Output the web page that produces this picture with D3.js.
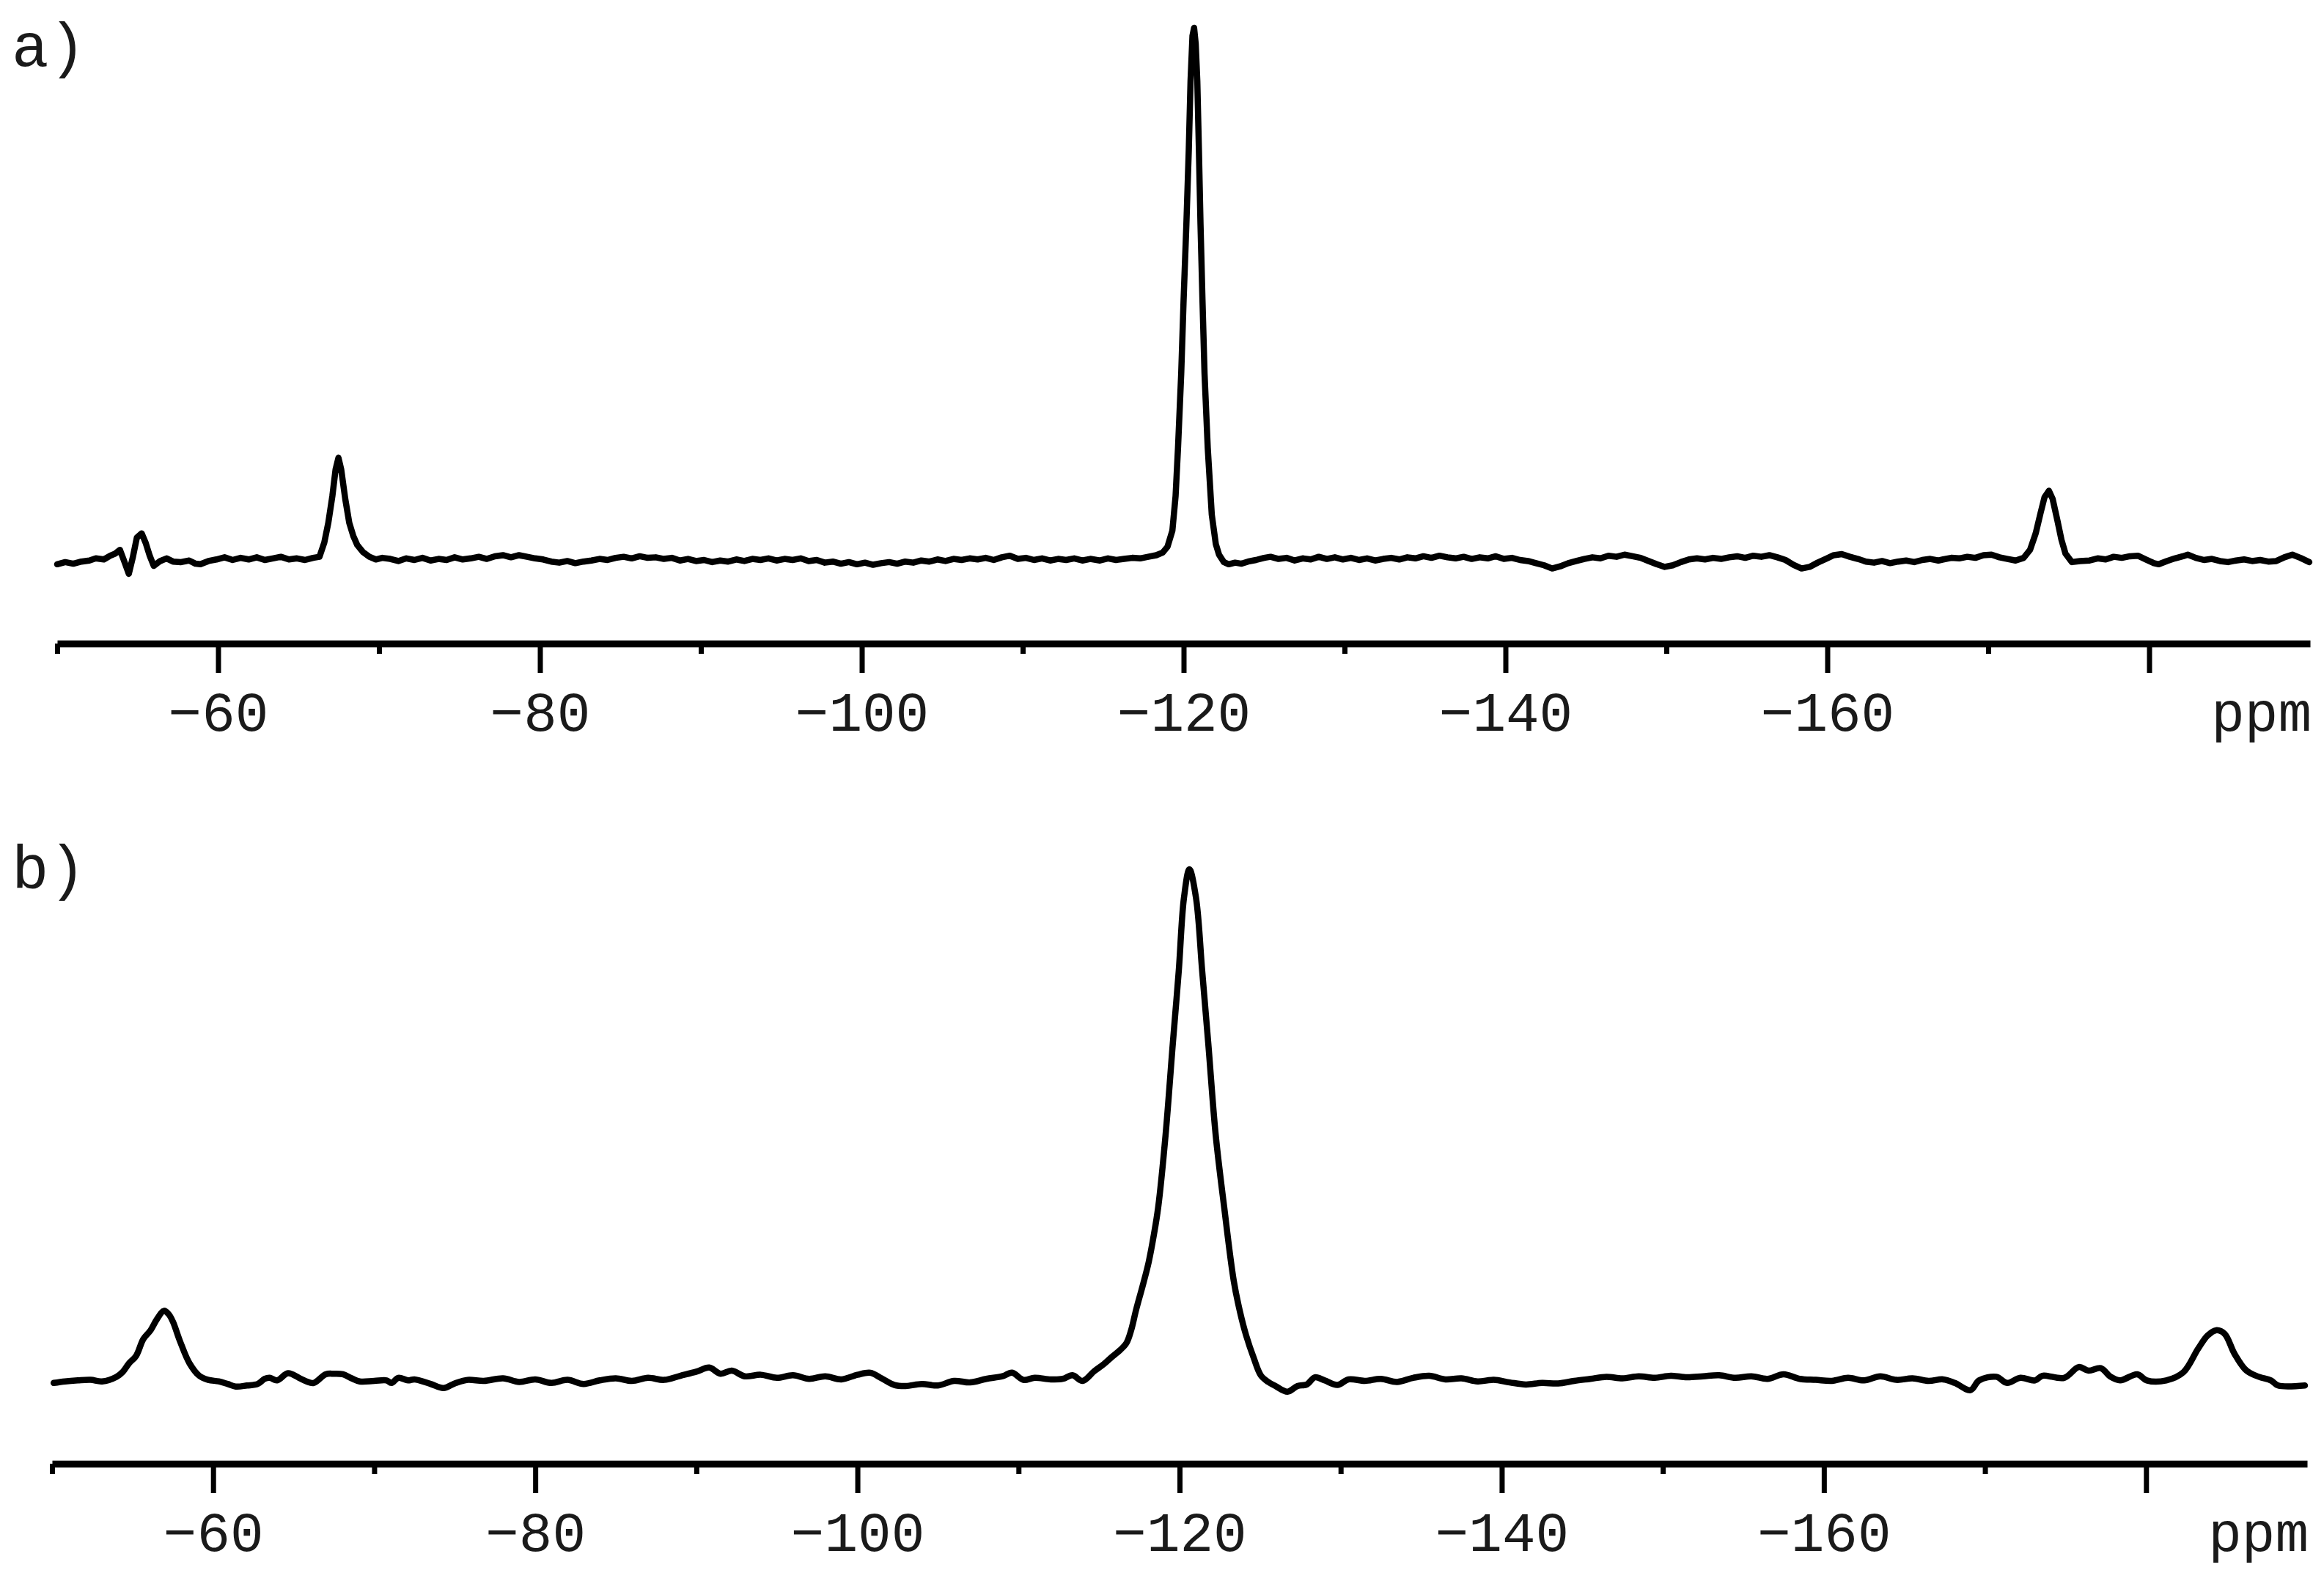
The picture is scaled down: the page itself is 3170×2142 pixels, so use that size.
<!DOCTYPE html>
<html>
<head>
<meta charset="utf-8">
<script src="https://cdnjs.cloudflare.com/ajax/libs/d3/7.8.5/d3.min.js"></script>
<style>
  body { margin: 0; background: #ffffff; }
  text { font-family: "Courier New", "Liberation Mono", monospace; fill: #1a1a1a; }
</style>
</head>
<body>
<div id="spectra"></div>
<script>
//chemical shift (ppm) and intensity read off spectrum a)
var shiftA = [-50.0,-50.5,-51.0,-51.5,-52.0,-52.4,-52.9,-53.3,-53.6,-53.9,-54.2,-54.45,-54.7,-54.95,-55.25,-55.5,-55.75,-56.0,-56.4,-56.8,
  -57.2,-57.7,-58.2,-58.6,-58.9,-59.4,-59.9,-60.4,-60.9,-61.4,-61.9,-62.4,-62.9,-63.4,-63.9,-64.4,-64.9,-65.4,-65.9,-66.3,
  -66.6,-66.85,-67.1,-67.3,-67.48,-67.65,-67.9,-68.15,-68.4,-68.65,-69.0,-69.4,-69.8,-70.2,-70.7,
  -71.2,-71.7,-72.2,-72.7,-73.2,-73.7,-74.2,-74.7,-75.2,-75.7,-76.2,-76.7,-77.2,-77.7,-78.2,-78.7,-79.2,-79.7,-80.2,-80.7,
  -81.2,-81.7,-82.2,-82.7,-83.2,-83.7,-84.2,-84.7,-85.2,-85.7,-86.2,-86.7,-87.2,-87.7,-88.2,-88.7,-89.2,-89.7,-90.2,-90.7,
  -91.2,-91.7,-92.2,-92.7,-93.2,-93.7,-94.2,-94.7,-95.2,-95.7,-96.2,-96.7,-97.2,-97.7,-98.2,-98.7,-99.2,-99.7,-100.2,-100.7,
  -101.2,-101.7,-102.2,-102.7,-103.2,-103.7,-104.2,-104.7,-105.2,-105.7,-106.2,-106.7,-107.2,-107.7,-108.2,-108.7,-109.2,-109.7,-110.2,-110.7,
  -111.2,-111.7,-112.2,-112.7,-113.2,-113.7,-114.2,-114.8,-115.3,-115.8,-116.3,-116.8,-117.3,-117.8,-118.3,-118.7,-119.0,-119.3,-119.5,-119.65,
  -119.85,-120.0,-120.17,-120.32,-120.43,-120.55,-120.65,-120.75,-120.85,-120.95,-121.05,-121.17,-121.3,-121.5,-121.75,-122.0,-122.2,-122.5,-122.8,-123.2,
  -123.6,-124.0,-124.5,-125.0,-125.4,-125.9,-126.4,-126.9,-127.4,-127.9,-128.4,-128.9,-129.4,-129.9,-130.4,-130.9,-131.4,-131.9,-132.4,-132.9,
  -133.4,-133.9,-134.4,-134.9,-135.4,-135.9,-136.4,-136.9,-137.4,-137.9,-138.4,-138.9,-139.4,-139.9,-140.4,-140.9,-141.4,-141.9,-142.4,-142.9,
  -143.4,-143.9,-144.4,-144.9,-145.4,-145.9,-146.4,-146.9,-147.4,-147.9,-148.4,-148.9,-149.4,-149.9,-150.4,-150.9,-151.4,-151.9,-152.4,-152.9,
  -153.4,-153.9,-154.4,-154.9,-155.4,-155.9,-156.4,-156.9,-157.4,-157.9,-158.4,-158.9,-159.4,-159.9,-160.4,-160.9,-161.4,-161.9,-162.4,-162.9,
  -163.4,-163.9,-164.4,-164.9,-165.4,-165.9,-166.4,-166.9,-167.2,-167.7,-168.2,-168.7,-169.2,-169.7,-170.2,-170.7,-171.2,-171.7,-172.2,-172.6,
  -172.95,-173.25,-173.5,-173.77,-174.0,-174.3,-174.55,-174.8,-175.2,-175.7,-176.3,-176.8,-177.3,-177.8,-178.3,-178.8,-179.3,-179.8,-180.3,-180.6,
  -181.1,-181.6,-182.1,-182.4,-182.9,-183.4,-183.9,-184.4,-184.9,-185.4,-185.9,-186.4,-186.9,-187.4,-187.9,-188.4,-188.9,-189.4,-189.95];
var intensityA = [-0.8,-0.4,-0.7,-0.3,-0.1,0.3,0.1,0.8,1.2,1.9,-0.5,-2.6,0.5,4.2,5.0,3.2,0.8,-1.1,-0.2,0.3,
  -0.3,-0.4,-0.1,-0.7,-0.8,-0.2,0.1,0.5,0.0,0.4,0.1,0.5,0.0,0.3,0.6,0.1,0.3,0.0,0.4,0.6,
  3.3,7.0,12.0,17.0,19.2,17.0,11.5,7.0,4.5,2.8,1.5,0.6,0.1,0.4,0.2,
  -0.2,0.3,0.0,0.4,-0.1,0.2,0.0,0.5,0.1,0.3,0.6,0.2,0.7,0.9,0.5,0.9,0.6,0.3,0.1,-0.3,
  -0.5,-0.2,-0.6,-0.3,-0.1,0.2,0.0,0.4,0.6,0.3,0.7,0.4,0.5,0.2,0.4,-0.1,0.2,-0.2,0.0,-0.4,
  -0.1,-0.3,0.1,-0.2,0.2,0.0,0.3,-0.1,0.2,0.0,0.3,-0.2,0.0,-0.5,-0.3,-0.7,-0.4,-0.8,-0.5,-0.9,
  -0.6,-0.4,-0.7,-0.3,-0.5,-0.1,-0.3,0.1,-0.2,0.2,0.0,0.3,0.1,0.4,0.0,0.5,0.8,0.2,0.4,0.0,
  0.3,-0.1,0.2,0.0,0.3,-0.1,0.2,-0.1,0.3,0.0,0.2,0.4,0.3,0.6,0.9,1.4,2.5,5.5,12.0,21.0,
  35.0,49.0,63.0,77.0,90.0,98.5,100.0,97.0,90.0,77.0,63.0,49.0,35.0,21.0,8.5,3.0,1.0,-0.4,-0.8,-0.5,
  -0.7,-0.3,0.0,0.4,0.6,0.2,0.4,-0.1,0.3,0.1,0.6,0.2,0.5,0.1,0.4,0.0,0.3,-0.1,0.2,0.4,
  0.1,0.5,0.3,0.7,0.4,0.8,0.5,0.3,0.6,0.2,0.5,0.3,0.7,0.2,0.4,0.0,-0.2,-0.6,-1.0,-1.6,
  -1.2,-0.6,-0.2,0.2,0.5,0.3,0.8,0.6,1.0,0.7,0.4,-0.2,-0.8,-1.3,-1.0,-0.4,0.1,0.3,0.1,0.4,
  0.2,0.5,0.7,0.4,0.8,0.6,0.9,0.5,0.0,-0.9,-1.6,-1.3,-0.5,0.2,0.9,1.1,0.6,0.2,-0.3,-0.5,
  -0.2,-0.6,-0.3,-0.1,-0.4,0.0,0.2,-0.1,0.1,0.4,0.3,0.6,0.4,0.9,1.0,0.5,0.2,-0.1,0.4,1.9,
  5.0,8.8,11.8,13.0,11.5,7.4,3.8,1.2,-0.4,-0.2,-0.1,0.3,0.1,0.6,0.4,0.7,0.8,0.1,-0.6,-0.8,
  -0.2,0.3,0.7,1.0,0.4,0.0,0.2,-0.2,-0.4,-0.1,0.1,-0.2,0.0,-0.3,-0.2,0.5,1.0,0.4,-0.4];

//chemical shift (ppm) and intensity read off spectrum b)
var shiftB = [-50.1,-50.8,-51.6,-52.4,-53.1,-54.0,-54.4,-54.77,-55.22,-55.67,-56.12,-56.5,-56.95,-57.25,-57.5,-57.95,-58.54,-59.14,-59.7,-60.35,
  -60.9,-61.4,-62.1,-62.77,-63.2,-63.52,-63.97,-64.65,-65.33,-65.8,-66.24,-66.99,-67.5,-68.05,-68.6,-69.1,-70.0,-70.77,-71.07,-71.5,
  -72.1,-72.5,-73.5,-74.3,-75.0,-75.8,-76.8,-78.0,-79.0,-80.0,-81.0,-82.0,-83.0,-84.0,-85.0,-86.0,-87.0,-88.0,-89.0,-90.0,
  -90.8,-91.5,-92.2,-93.0,-94.0,-95.0,-96.0,-97.0,-98.0,-99.0,-100.0,-100.8,-101.5,-102.3,-103.0,-104.0,-105.0,-106.0,-107.0,-108.0,
  -109.0,-109.6,-110.3,-111.0,-112.0,-112.75,-113.35,-113.98,-114.7,-115.3,-115.8,-116.3,-116.7,-117.0,-117.3,-117.7,-118.08,-118.4,-118.67,-119.13,
  -119.58,-119.95,-120.27,-120.61,-121.02,-121.4,-121.78,-122.24,-122.77,-123.36,-123.75,-124.13,-124.6,-125.04,-125.5,-125.95,-126.7,-127.32,-127.9,-128.4,
  -129.0,-129.8,-130.5,-131.5,-132.5,-133.5,-134.5,-135.5,-136.5,-137.5,-138.5,-139.5,-140.5,-141.5,-142.5,-143.5,-144.5,-145.5,-146.5,-147.5,
  -148.5,-149.5,-150.5,-151.5,-152.5,-153.5,-154.5,-155.5,-156.5,-157.5,-158.5,-159.5,-160.5,-161.5,-162.5,-163.5,-164.5,-165.5,-166.5,-167.4,
  -168.13,-169.1,-169.64,-170.7,-171.37,-172.2,-173.1,-173.56,-174.92,-175.82,-176.43,-177.19,-177.8,-178.39,-179.45,-180.05,-181.25,-182.32,-183.23,-183.83,
  -184.35,-184.88,-185.49,-186.24,-187.0,-187.75,-188.2,-189.86];
var intensityB = [-0.4,-0.1,0.1,0.2,-0.1,0.8,1.8,3.4,4.9,8.2,9.9,12.0,13.7,13.0,11.6,7.7,3.4,1.0,0.2,-0.1,
  -0.6,-1.1,-0.9,-0.6,0.4,0.6,0.1,1.5,0.6,-0.1,-0.4,1.3,1.4,1.3,0.5,-0.1,0.0,0.1,-0.4,0.6,
  0.1,0.3,-0.6,-1.4,-0.5,0.2,0.0,0.5,-0.2,0.3,-0.4,0.2,-0.6,0.1,0.5,0.0,0.6,0.2,1.0,1.8,
  2.6,1.4,2.0,0.9,1.2,0.6,1.1,0.4,0.9,0.3,1.2,1.6,0.5,-0.8,-1.0,-0.6,-0.9,0.0,-0.3,0.4,
  0.9,1.6,0.2,0.6,0.3,0.4,1.1,0.0,1.9,3.3,4.7,6.0,7.4,10.0,13.9,18.5,23.2,28.5,33.9,48.1,
  66.0,80.2,94.4,100.0,94.4,80.2,66.0,48.1,33.9,19.6,13.5,8.9,4.5,1.1,-0.2,-1.0,-2.1,-1.0,-0.7,0.7,
  0.1,-0.8,0.3,0.0,0.4,-0.2,0.6,1.0,0.3,0.5,-0.1,0.2,-0.3,-0.7,-0.4,-0.5,0.0,0.4,0.8,0.5,
  0.9,0.6,1.0,0.7,0.9,1.1,0.6,0.9,0.4,1.3,0.4,0.2,0.0,0.6,0.1,0.9,0.2,0.5,0.0,0.3,
  -0.4,-1.8,0.1,0.8,-0.4,0.6,0.1,1.0,0.6,2.7,2.0,2.5,0.8,0.1,1.3,0.1,0.1,1.7,6.3,8.9,
  9.9,9.2,5.3,2.0,0.8,0.1,-0.9,-0.9];

//axis ticks and labels (the -180 tick carries no number, "ppm" sits there instead)
var majorTicks = [-60, -80, -100, -120, -140, -160, -180];
var minorTicks = [-50, -70, -90, -110, -130, -150, -170];
var tickLabels = ["\u221260", "\u221280", "\u2212100", "\u2212120", "\u2212140", "\u2212160"];
var panelLabels = ["a)", "b)"];
var unitLabel = "ppm";

//page size
var width = 3170,
    height = 2142;

var svg = d3.select("#spectra")
  .append("svg")
    .attr("width", width)
    .attr("height", height)
    .style("background", "#ffffff");

//layout of the two stacked panels
var panels = [
  {shift: shiftA, intensity: intensityA, label: panelLabels[0], x0: 78, x1: 3151, base: 764, top: 38, axisY: 878, labelY: 90, curve: d3.curveLinear},
  {shift: shiftB, intensity: intensityB, label: panelLabels[1], x0: 71, x1: 3147, base: 1884, top: 1186, axisY: 1997, labelY: 1212, curve: d3.curveCatmullRom.alpha(0.5)}
];

panels.forEach(function(p) {

  //scales: ppm runs right to left like an nmr axis
  var x = d3.scaleLinear().domain([-50, -190]).range([p.x0, p.x1]);
  var y = d3.scaleLinear().domain([0, 100]).range([p.base, p.top]);

  var points = p.shift.map(function(s, i) { return [s, p.intensity[i]]; });

  //spectrum trace
  svg.append("path")
    .datum(points)
    .attr("fill", "none")
    .attr("stroke", "#000")
    .attr("stroke-width", 8.5)
    .attr("stroke-linejoin", "round")
    .attr("stroke-linecap", "round")
    .attr("d", d3.line()
      .curve(p.curve)
      .x(function(d) { return x(d[0]); })
      .y(function(d) { return y(d[1]); }));

  //minor ticks
  var minorAxis = svg.append("g")
    .attr("transform", "translate(0," + p.axisY + ")")
    .call(d3.axisBottom(x).tickValues(minorTicks).tickSize(14).tickSizeOuter(0).tickFormat(""));
  minorAxis.select(".domain").remove();
  minorAxis.selectAll(".tick line").attr("stroke", "#000").attr("stroke-width", 7);

  //major ticks, labels and axis line
  var majorAxis = svg.append("g")
    .attr("transform", "translate(0," + p.axisY + ")")
    .call(d3.axisBottom(x).tickValues(majorTicks).tickSize(40).tickSizeOuter(0)
      .tickFormat(function(d, i) { return tickLabels[i] || ""; }));
  majorAxis.select(".domain")
    .attr("stroke", "#000")
    .attr("stroke-width", 9.5);
  majorAxis.selectAll(".tick line").attr("stroke", "#000").attr("stroke-width", 7);
  majorAxis.selectAll(".tick text")
    .attr("y", 119)
    .attr("dy", 0)
    .style("font-size", "76px")
    .style("font-family", "'Courier New', 'Liberation Mono', monospace")
    .attr("fill", "#1a1a1a");

  //unit label at the right end
  svg.append("text")
    .attr("x", p.x1 + 2)
    .attr("y", p.axisY + 119)
    .attr("text-anchor", "end")
    .style("font-size", "76px")
    .text(unitLabel);

  //panel label
  svg.append("text")
    .attr("x", 16)
    .attr("y", p.labelY)
    .style("font-size", "84px")
    .text(p.label);
});
</script>
</body>
</html>
